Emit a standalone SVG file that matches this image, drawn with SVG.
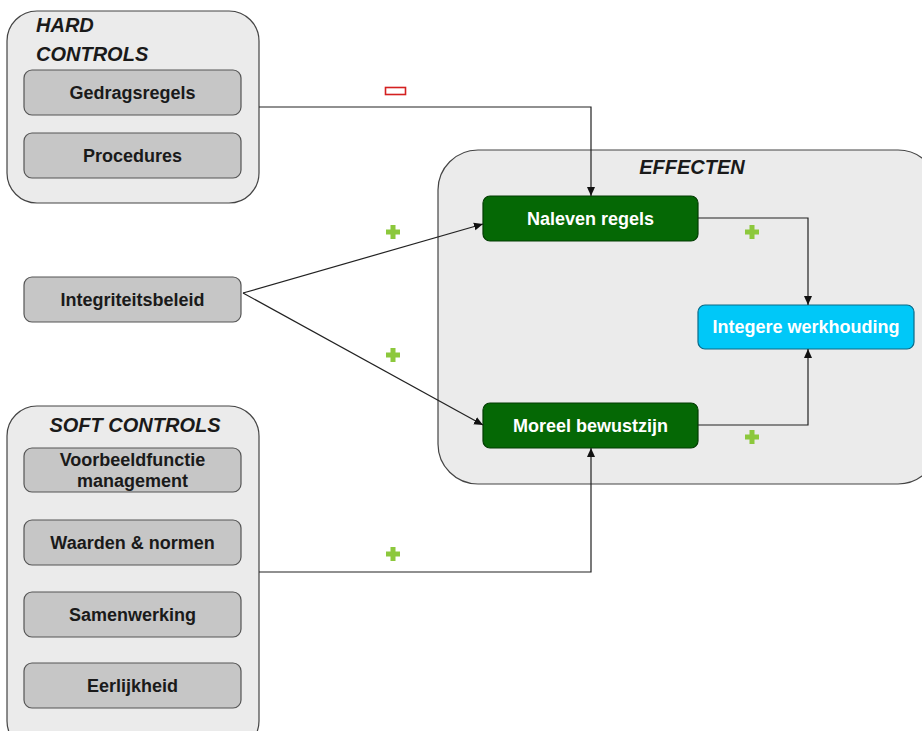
<svg xmlns="http://www.w3.org/2000/svg" width="922" height="731" viewBox="0 0 922 731">
<defs>
<style>
.cont{fill:#ebebeb;stroke:#444;stroke-width:1.2}
.box{fill:#c6c6c6;stroke:#555;stroke-width:1.2}
.lbl{font-family:"Liberation Sans",Arial,sans-serif;font-weight:bold;font-size:18px;fill:#1a1a1a;text-anchor:middle}
.ttl{font-family:"Liberation Sans",Arial,sans-serif;font-weight:bold;font-style:italic;font-size:20px;fill:#1a1a1a}
.wl{font-family:"Liberation Sans",Arial,sans-serif;font-weight:bold;font-size:18px;fill:#ffffff;text-anchor:middle}
.green{fill:#056805;stroke:#033d03;stroke-width:1.2}
.cyan{fill:#00c8f8;stroke:#0a6a88;stroke-width:1.2}
.con{fill:none;stroke:#222;stroke-width:1.2}
.plus{fill:#8cc83c}
</style>
<marker id="arr" markerWidth="10" markerHeight="10" refX="9" refY="5" orient="auto" markerUnits="userSpaceOnUse">
<path d="M0,1 L9,5 L0,9 Z" fill="#111"/>
</marker>
<symbol id="pl" viewBox="0 0 14 14" overflow="visible">
<path d="M4.5,0 h5 v4.5 h4.5 v5 h-4.5 v4.5 h-5 v-4.5 h-4.5 v-5 h4.5 Z" class="plus"/>
</symbol>
</defs>

<g id="hard-controls">
<rect class="cont" x="7" y="11" width="252" height="192" rx="30"/>
<text class="ttl" x="36" y="32">HARD</text>
<text class="ttl" x="36" y="61">CONTROLS</text>
</g>
<g id="gedragsregels">
<rect class="box" x="24" y="70" width="217" height="45" rx="8"/>
<text class="lbl" x="132.5" y="99">Gedragsregels</text>
</g>
<g id="procedures">
<rect class="box" x="24" y="133" width="217" height="45" rx="8"/>
<text class="lbl" x="132.5" y="162">Procedures</text>
</g>

<g id="integriteitsbeleid">
<rect class="box" x="24" y="277" width="217" height="45" rx="8"/>
<text class="lbl" x="132.5" y="306">Integriteitsbeleid</text>
</g>

<g id="soft-controls">
<rect class="cont" x="7" y="406" width="252" height="345" rx="30"/>
<text class="ttl" x="135" y="432" text-anchor="middle">SOFT CONTROLS</text>
</g>
<g id="voorbeeldfunctie">
<rect class="box" x="24" y="448" width="217" height="44" rx="8"/>
<text class="lbl" x="132.5" y="466">Voorbeeldfunctie</text>
<text class="lbl" x="132.5" y="487">management</text>
</g>
<g id="waarden">
<rect class="box" x="24" y="520" width="217" height="45" rx="8"/>
<text class="lbl" x="132.5" y="549">Waarden &amp; normen</text>
</g>
<g id="samenwerking">
<rect class="box" x="24" y="592" width="217" height="45" rx="8"/>
<text class="lbl" x="132.5" y="621">Samenwerking</text>
</g>
<g id="eerlijkheid">
<rect class="box" x="24" y="663" width="217" height="45" rx="8"/>
<text class="lbl" x="132.5" y="692">Eerlijkheid</text>
</g>

<g id="effecten">
<rect class="cont" x="438" y="150" width="500" height="334" rx="40"/>
<text class="ttl" x="692" y="174" text-anchor="middle">EFFECTEN</text>
</g>
<g id="naleven-regels">
<rect class="green" x="483" y="196" width="215" height="45" rx="7"/>
<text class="wl" x="590.5" y="225">Naleven regels</text>
</g>
<g id="moreel-bewustzijn">
<rect class="green" x="483" y="403" width="215" height="45" rx="7"/>
<text class="wl" x="590.5" y="432">Moreel bewustzijn</text>
</g>
<g id="integere-werkhouding">
<rect class="cyan" x="698" y="305" width="216" height="44" rx="7"/>
<text class="wl" x="806" y="333">Integere werkhouding</text>
</g>

<g id="connectors">
<path class="con" d="M259,107 H591 V196" marker-end="url(#arr)"/>
<path class="con" d="M243,293 L483,224" marker-end="url(#arr)"/>
<path class="con" d="M243,293 L483,425" marker-end="url(#arr)"/>
<path class="con" d="M259,572 H591 V448" marker-end="url(#arr)"/>
<path class="con" d="M698,218 H808 V305" marker-end="url(#arr)"/>
<path class="con" d="M698,425 H808 V349" marker-end="url(#arr)"/>
<rect x="385.5" y="87.5" width="20" height="7" fill="#fff" stroke="#d42020" stroke-width="1.6"/>
<use href="#pl" x="386" y="225" width="14" height="14"/>
<use href="#pl" x="386" y="348" width="14" height="14"/>
<use href="#pl" x="386" y="547" width="14" height="14"/>
<use href="#pl" x="745" y="225" width="14" height="14"/>
<use href="#pl" x="745" y="430" width="14" height="14"/>
</g>
</svg>
